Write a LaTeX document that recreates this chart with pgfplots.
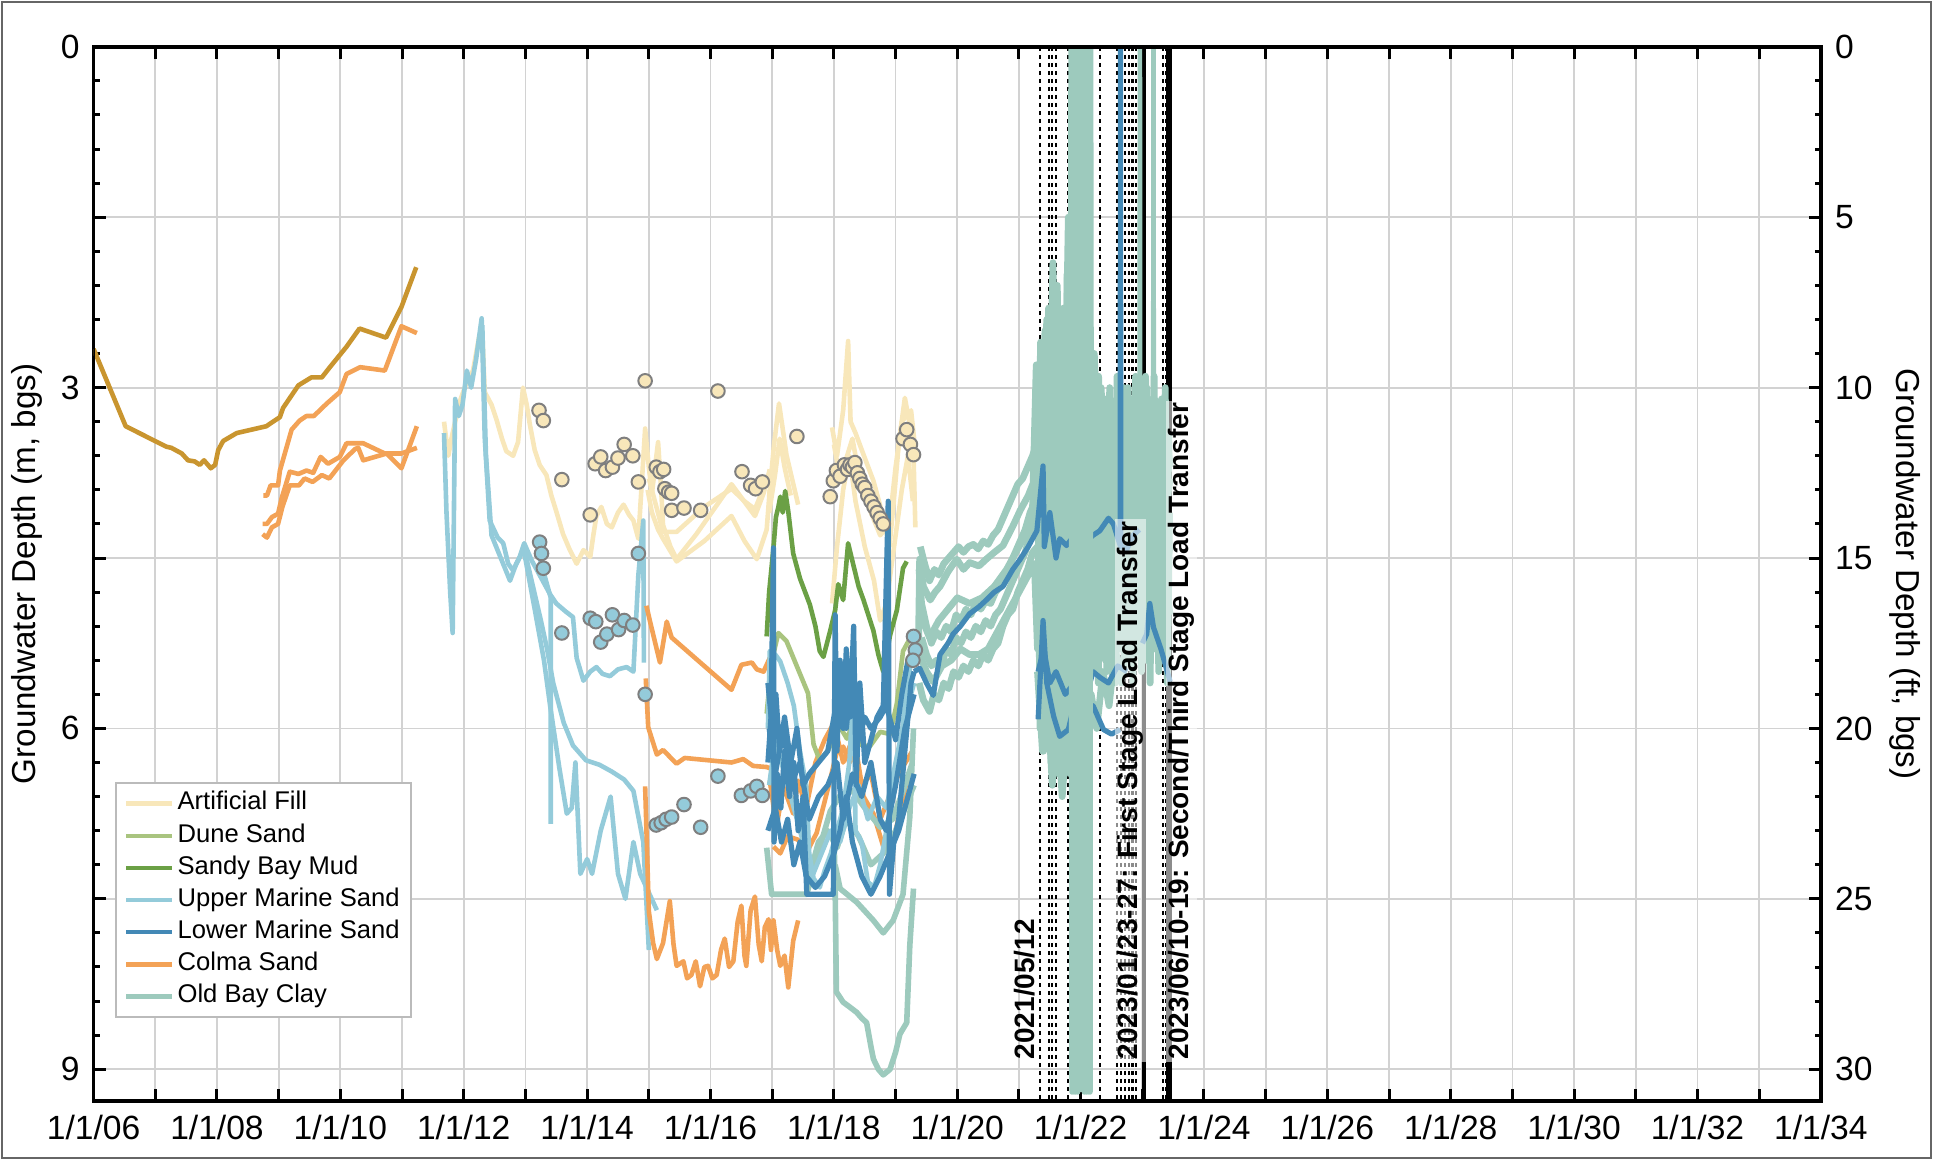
\documentclass[border=0pt]{standalone}
\usepackage{pgfplots}
\pgfplotsset{compat=1.18}
\usepackage{fontspec}
\setmainfont{Liberation Sans}
\definecolor{cAF}{HTML}{F8E7BA}
\definecolor{cDS}{HTML}{A9C47F}
\definecolor{cSBM}{HTML}{6BA045}
\definecolor{cUMS}{HTML}{94CBDA}
\definecolor{cLMS}{HTML}{4389B6}
\definecolor{cCS}{HTML}{F3A256}
\definecolor{cOBC}{HTML}{9DCABD}
\definecolor{cGold}{HTML}{C9952F}
\definecolor{cGrid}{HTML}{D2D2D2}
\definecolor{cEdge}{HTML}{7F7F7F}
\definecolor{cFrame}{HTML}{666666}
\definecolor{cLeg}{HTML}{BBBBBB}
\pgfplotsset{band/.style={cOBC, line width=1.7pt, forget plot}}
\begin{document}
\begin{tikzpicture}
\begin{axis}[
  at={(23.4pt,14.75pt)}, anchor=south west,
  scale only axis, width=431.85pt, height=263.55pt,
  xmin=2006, xmax=2034, ymin=0, ymax=9.28, y dir=reverse,
  xtick={2006,2007,...,2034},
  xticklabels={1/1/06,,1/1/08,,1/1/10,,1/1/12,,1/1/14,,1/1/16,,1/1/18,,1/1/20,,1/1/22,,1/1/24,,1/1/26,,1/1/28,,1/1/30,,1/1/32,,1/1/34},
  minor x tick num=3,
  ytick={0,1.5,3,4.5,6,7.5,9}, yticklabels={0,,3,,6,,9},
  minor y tick num=4,
  xtick pos=both, xticklabel pos=lower, ytick pos=left,
  tick align=inside,
  grid=major, major grid style={cGrid, line width=0.45pt},
  axis line style={line width=0.9pt},
  major tick length=3pt, minor tick length=1.6pt,
  every tick/.style={black, line width=0.75pt},
  tick label style={font=\fontsize{8.4}{10}\selectfont},
  ylabel={Groundwater Depth (m, bgs)},
  ylabel style={font=\fontsize{8.3}{10}\selectfont, at={(axis description cs:-0.0384,0.5)}, anchor=center},
  legend style={at={(0.0123,0.0784)}, anchor=south west, draw=cLeg, line width=0.5pt, fill=white,
     font=\fontsize{6.4}{7.5}\selectfont, inner xsep=2pt, inner ysep=1.2pt, nodes={inner sep=0.95pt}},
  legend cell align=left,
  legend image code/.code={\draw[#1, line width=1.1pt] (0pt,0pt) -- (11.4pt,0pt);},
  every axis plot/.append style={line width=1.15pt, line join=round},
]
\addlegendimage{cAF}\addlegendentry{Artificial Fill}
\addlegendimage{cDS}\addlegendentry{Dune Sand}
\addlegendimage{cSBM}\addlegendentry{Sandy Bay Mud}
\addlegendimage{cUMS}\addlegendentry{Upper Marine Sand}
\addlegendimage{cLMS}\addlegendentry{Lower Marine Sand}
\addlegendimage{cCS}\addlegendentry{Colma Sand}
\addlegendimage{cOBC}\addlegendentry{Old Bay Clay}

% event lines
\pgfplotsinvokeforeach{2021.34,2021.48,2021.54,2021.60,2021.80,2022.31,2022.59,2022.65,2022.72,2022.78,2022.84,2022.90,2023.34,2023.38}{
  \addplot[black, line width=0.55pt, dash pattern=on 1pt off 1pt, forget plot] coordinates {(#1,0) (#1,9.28)};
}
\addplot[black, line width=1pt, forget plot] coordinates {(2023.02,0) (2023.02,9.28)};
\addplot[black, line width=1.4pt, forget plot] coordinates {(2023.43,0) (2023.43,9.28)};

% gold
\addplot[cGold, forget plot] coordinates {(2006.0,2.66)(2006.52,3.34)(2007.18,3.52)(2007.26,3.53)(2007.43,3.58)(2007.53,3.64)(2007.64,3.65)(2007.72,3.68)(2007.79,3.64)(2007.90,3.71)(2007.97,3.68)(2008.02,3.55)(2008.10,3.47)(2008.32,3.40)(2008.80,3.34)(2008.88,3.31)(2009.02,3.26)(2009.07,3.18)(2009.32,2.98)(2009.53,2.91)(2009.70,2.91)(2009.83,2.82)(2010.10,2.64)(2010.31,2.48)(2010.74,2.56)(2010.99,2.29)(2011.23,1.94)};
% colma early
\addplot[cCS, forget plot] coordinates {(2008.75,3.95)(2008.81,3.95)(2008.87,3.86)(2008.99,3.86)(2009.02,3.73)(2009.21,3.37)(2009.34,3.29)(2009.45,3.25)(2009.57,3.25)(2009.78,3.14)(2009.99,3.04)(2010.10,2.88)(2010.32,2.82)(2010.72,2.85)(2010.99,2.46)(2011.24,2.52)};
\addplot[cCS, forget plot] coordinates {(2008.74,4.20)(2008.81,4.20)(2008.89,4.14)(2008.99,4.11)(2009.05,3.97)(2009.18,3.74)(2009.32,3.76)(2009.45,3.73)(2009.56,3.75)(2009.68,3.61)(2009.80,3.67)(2009.99,3.61)(2010.10,3.49)(2010.37,3.49)(2010.72,3.58)(2010.99,3.58)(2011.24,3.53)};
\addplot[cCS, forget plot] coordinates {(2008.74,4.29)(2008.81,4.32)(2008.89,4.23)(2008.99,4.20)(2009.06,4.05)(2009.18,3.86)(2009.33,3.86)(2009.42,3.80)(2009.55,3.83)(2009.70,3.77)(2009.82,3.80)(2010.05,3.64)(2010.24,3.54)(2010.29,3.53)(2010.37,3.64)(2010.75,3.58)(2010.99,3.71)(2011.24,3.34)};

% artificial fill lines
\addplot[cAF, forget plot] coordinates {(2011.68,3.30)(2011.75,3.60)(2011.80,3.45)(2011.86,3.30)(2011.95,3.10)(2012.05,2.95)(2012.15,2.85)(2012.25,2.55)(2012.30,2.50)(2012.34,3.04)(2012.45,3.15)(2012.53,3.28)(2012.62,3.45)(2012.69,3.56)(2012.80,3.60)(2012.88,3.48)(2012.96,3.00)(2013.02,3.15)(2013.07,3.32)(2013.15,3.55)(2013.23,3.68)(2013.34,3.77)(2013.42,3.95)(2013.50,4.09)(2013.61,4.29)(2013.72,4.43)(2013.83,4.55)(2013.94,4.43)(2014.05,4.49)(2014.10,4.30)(2014.15,4.13)(2014.23,4.05)(2014.32,4.20)(2014.40,4.23)(2014.50,4.10)(2014.59,4.03)(2014.68,4.12)(2014.75,4.17)(2014.83,4.33)(2014.94,3.36)(2015.00,3.70)(2015.05,3.93)(2015.10,3.70)(2015.15,3.48)(2015.20,3.90)(2015.23,4.21)(2015.35,4.40)(2015.45,4.51)(2015.77,4.29)(2016.34,3.85)(2016.72,4.13)(2016.86,3.93)(2016.96,3.72)};
\addplot[cAF, forget plot] coordinates {(2014.98,3.90)(2015.05,4.10)(2015.15,4.25)(2015.23,4.33)(2015.45,4.53)(2015.90,4.35)(2016.34,4.13)(2016.55,4.35)(2016.75,4.51)(2016.91,4.25)(2016.96,3.90)};
\addplot[cAF, forget plot] coordinates {(2015.00,3.80)(2015.23,4.27)(2015.45,4.27)(2015.90,4.05)(2016.34,3.89)(2016.55,4.00)(2016.72,4.07)(2016.96,3.75)};
\addplot[cAF, forget plot] coordinates {(2016.95,3.96)(2017.03,3.50)(2017.11,3.14)(2017.18,3.40)(2017.23,3.59)(2017.32,3.80)(2017.42,4.03)};
\addplot[cAF, forget plot] coordinates {(2016.95,4.10)(2017.05,3.75)(2017.12,3.45)(2017.20,3.70)(2017.30,3.95)};
\addplot[cAF, forget plot] coordinates {(2017.97,3.35)(2018.05,3.60)(2018.15,3.20)(2018.23,2.59)(2018.27,3.30)(2018.35,3.40)(2018.48,3.59)(2018.64,3.82)(2018.80,4.14)(2018.90,4.40)(2018.97,4.00)(2019.05,3.50)(2019.15,3.09)(2019.22,3.30)(2019.29,3.59)(2019.32,4.23)};
\addplot[cAF, forget plot] coordinates {(2017.97,4.90)(2018.05,4.40)(2018.15,3.90)(2018.25,3.60)(2018.35,4.00)(2018.50,4.40)(2018.65,4.70)(2018.75,5.05)(2018.85,4.90)(2018.95,4.50)(2019.10,3.90)(2019.20,3.60)(2019.28,4.00)};
\addplot[cAF, forget plot] coordinates {(2018.00,3.50)(2018.10,3.80)(2018.30,3.45)(2018.45,3.90)(2018.60,4.10)(2018.75,4.30)(2018.90,4.20)(2019.00,3.70)(2019.10,3.30)(2019.25,3.20)(2019.30,3.45)};

% upper marine sand
\addplot[cUMS, forget plot] coordinates {(2011.68,3.40)(2011.72,4.10)(2011.78,4.80)(2011.82,5.16)(2011.86,3.10)(2011.92,3.25)(2011.98,3.15)(2012.05,2.85)(2012.12,3.00)(2012.20,2.75)(2012.29,2.39)(2012.34,3.44)(2012.42,4.17)(2012.55,4.32)(2012.64,4.37)(2012.72,4.55)(2012.80,4.61)(2012.90,4.50)(2012.98,4.37)(2013.10,4.52)(2013.23,4.65)(2013.40,4.82)(2013.50,4.90)(2013.65,4.97)(2013.77,5.02)(2013.83,5.38)(2013.94,5.58)(2014.05,5.50)(2014.15,5.46)(2014.25,5.52)(2014.37,5.54)(2014.50,5.48)(2014.64,5.46)(2014.75,5.50)(2014.83,4.65)(2014.91,4.17)(2014.92,5.42)};
\addplot[cUMS, forget plot] coordinates {(2012.30,2.45)(2012.36,3.60)(2012.45,4.30)(2012.60,4.50)(2012.75,4.70)(2012.85,4.55)(2012.98,4.42)(2013.10,4.70)(2013.25,5.05)(2013.35,5.30)(2013.45,5.60)(2013.62,5.95)(2013.77,6.15)(2013.98,6.28)(2014.20,6.32)(2014.40,6.38)(2014.60,6.45)(2014.75,6.55)(2014.91,7.00)(2015.00,7.95)};
\addplot[cUMS, forget plot] coordinates {(2012.98,4.45)(2013.15,4.95)(2013.30,5.40)(2013.40,5.80)(2013.55,6.35)(2013.67,6.75)(2013.75,6.70)(2013.81,6.30)(2013.89,7.28)(2014.00,7.15)(2014.08,7.28)(2014.22,6.90)(2014.38,6.60)(2014.50,7.28)(2014.62,7.50)(2014.75,7.00)(2014.86,7.28)(2015.13,7.60)};
\addplot[cUMS, forget plot] coordinates {(2013.23,4.50)(2013.41,4.85)(2013.41,6.84)};

% colma sand 2015+
\addplot[cCS, forget plot] coordinates {(2014.96,4.92)(2015.02,5.06)(2015.18,5.42)(2015.29,5.06)(2015.37,5.20)(2016.34,5.66)(2016.50,5.44)(2016.67,5.42)(2016.75,5.48)(2016.86,5.50)(2016.96,5.38)};
\addplot[cCS, forget plot] coordinates {(2014.95,5.56)(2014.99,5.99)(2015.13,6.23)(2015.23,6.19)(2015.45,6.31)(2015.58,6.26)(2016.34,6.30)(2016.53,6.27)(2016.69,6.33)(2016.91,6.34)(2016.96,6.35)};
\addplot[cCS, forget plot] coordinates {(2014.94,6.51)(2015.00,7.61)(2015.07,7.89)(2015.13,8.03)(2015.23,7.89)(2015.34,7.52)(2015.40,7.90)(2015.45,8.09)(2015.56,8.05)(2015.62,8.20)(2015.69,8.17)(2015.76,8.05)(2015.83,8.27)(2015.90,8.10)(2015.96,8.09)(2016.03,8.20)(2016.10,8.17)(2016.17,7.95)(2016.23,7.85)(2016.30,8.10)(2016.37,8.05)(2016.44,7.70)(2016.50,7.56)(2016.55,8.00)(2016.58,8.09)(2016.65,7.60)(2016.72,7.48)(2016.78,7.90)(2016.83,8.05)(2016.88,7.75)(2016.94,7.68)(2016.98,7.95)(2017.02,7.69)(2017.08,7.95)(2017.13,8.09)(2017.20,8.00)(2017.26,8.28)(2017.34,7.87)(2017.42,7.69)};
\addplot[cCS, forget plot] coordinates {(2016.96,6.46)(2017.07,6.87)(2017.18,6.51)(2017.34,6.75)(2017.42,6.46)(2017.55,6.70)(2017.70,6.30)(2017.85,6.10)(2018.00,5.95)(2018.15,6.30)(2018.30,6.10)(2018.45,6.50)(2018.60,6.40)(2018.75,6.80)(2018.90,6.60)(2019.05,6.40)(2019.27,6.20)};
\addplot[cCS, forget plot] coordinates {(2017.02,7.04)(2017.13,7.10)(2017.25,6.95)(2017.42,6.98)(2017.55,7.10)(2017.72,6.92)(2017.94,6.45)(2018.04,6.22)(2018.15,6.16)(2018.25,6.30)(2018.37,6.22)(2018.48,6.60)(2018.64,6.75)(2018.80,7.04)(2018.96,6.98)(2019.07,6.75)(2019.18,6.46)(2019.29,6.43)};

% old bay clay 2017-2019
\addplot[cOBC, line width=1.4pt, forget plot] coordinates {(2016.91,7.05)(2016.99,7.46)(2017.56,7.46)(2017.72,7.14)(2017.94,6.73)(2018.10,6.59)(2018.30,6.55)(2018.50,6.70)(2018.75,6.87)(2018.95,6.80)(2019.12,6.55)(2019.26,6.32)};
\addplot[cOBC, line width=1.4pt, forget plot] coordinates {(2018.00,6.90)(2018.02,7.41)(2018.04,8.32)(2018.15,8.41)(2018.25,8.45)(2018.37,8.50)(2018.45,8.55)(2018.53,8.59)(2018.60,8.80)(2018.64,8.91)(2018.72,9.00)(2018.80,9.05)(2018.91,9.00)(2019.00,8.85)(2019.07,8.69)(2019.18,8.59)(2019.23,7.91)(2019.29,7.41)};
\addplot[cOBC, line width=1.4pt, forget plot] coordinates {(2018.02,7.20)(2018.10,7.41)(2018.37,7.53)(2018.64,7.69)(2018.80,7.80)(2018.96,7.69)(2019.12,7.46)(2019.23,6.78)(2019.29,6.00)};
\addplot[cOBC, line width=1.4pt, forget plot] coordinates {(2017.60,7.30)(2017.75,7.00)(2017.90,6.90)(2018.05,7.05)(2018.20,6.80)(2018.40,6.95)(2018.60,7.20)(2018.80,7.10)(2019.00,6.90)(2019.15,6.70)(2019.30,6.50)};

% dune sand, sandy bay mud
\addplot[cDS, forget plot] coordinates {(2016.91,5.87)(2016.99,5.41)(2017.10,5.16)(2017.23,5.23)(2017.42,5.48)(2017.58,5.69)(2017.67,6.14)(2017.77,6.28)(2017.91,6.19)(2018.07,5.96)(2018.21,6.09)(2018.31,5.96)(2018.42,6.14)(2018.58,6.16)(2018.75,6.03)(2018.91,6.05)(2019.02,5.78)(2019.12,5.32)(2019.21,5.23)};
\addplot[cSBM, forget plot] coordinates {(2016.91,5.19)(2016.95,4.80)(2017.02,4.41)(2017.06,4.14)(2017.10,4.05)(2017.13,3.96)(2017.17,4.10)(2017.21,3.91)(2017.26,4.09)(2017.34,4.46)(2017.45,4.68)(2017.61,4.91)(2017.70,5.10)(2017.77,5.32)(2017.83,5.37)(2017.94,5.14)(2018.02,4.96)(2018.07,4.73)(2018.15,4.87)(2018.23,4.37)(2018.31,4.55)(2018.40,4.75)(2018.48,4.87)(2018.64,5.14)(2018.72,5.35)(2018.80,5.50)(2018.91,5.18)(2019.02,4.96)(2019.12,4.59)(2019.18,4.53)};

% upper marine sand 2017-2019
\addplot[cUMS, forget plot] coordinates {(2016.93,6.00)(2016.96,5.32)(2017.05,5.35)(2017.13,5.41)(2017.25,5.60)(2017.35,5.80)(2017.45,6.20)(2017.55,6.50)(2017.60,7.10)(2017.67,7.32)(2017.77,7.40)(2017.85,7.25)(2017.95,7.10)(2018.05,6.90)(2018.15,6.70)(2018.25,6.30)(2018.32,5.60)(2018.35,6.90)(2018.45,7.00)(2018.55,7.35)(2018.65,7.40)(2018.75,7.20)(2018.85,6.90)(2018.95,6.60)(2019.05,6.30)(2019.15,5.80)(2019.25,5.40)(2019.30,5.20)};
\addplot[cUMS, forget plot] coordinates {(2016.95,6.50)(2017.05,6.10)(2017.20,6.40)(2017.35,6.70)(2017.50,7.00)(2017.65,7.30)(2017.80,7.10)(2017.95,6.90)(2018.10,7.00)(2018.25,6.70)(2018.40,6.50)(2018.55,6.80)(2018.70,6.60)(2018.85,6.70)(2019.00,6.30)(2019.15,5.90)(2019.30,5.60)};

% lower marine sand 2017-2019
\addplot[cLMS, line width=1.3pt, forget plot] coordinates {(2016.93,6.30)(2016.98,5.90)(2017.02,4.41)(2017.03,7.00)(2017.08,6.40)(2017.14,6.70)(2017.20,6.20)(2017.28,6.60)(2017.35,6.30)(2017.42,6.90)(2017.50,6.60)(2017.56,7.46)(2017.99,7.46)(2018.02,5.00)(2018.05,6.20)(2018.10,5.40)(2018.15,6.00)(2018.20,5.30)(2018.26,5.90)(2018.32,5.10)(2018.36,6.50)(2018.42,5.60)(2018.50,6.30)(2018.60,6.10)(2018.70,5.90)(2018.80,5.80)(2018.88,4.00)(2018.90,7.46)(2018.97,7.00)(2019.05,6.80)(2019.15,6.20)(2019.25,5.60)(2019.30,5.50)};
\addplot[cLMS, line width=1.3pt, forget plot] coordinates {(2016.93,5.60)(2017.00,6.00)(2017.06,5.70)(2017.12,6.20)(2017.20,5.90)(2017.30,6.30)(2017.40,6.00)(2017.50,6.50)(2017.60,6.40)(2017.75,6.30)(2017.90,6.20)(2018.00,5.90)(2018.10,5.60)(2018.20,6.00)(2018.30,5.50)(2018.40,6.10)(2018.50,5.90)(2018.60,6.00)(2018.75,5.90)(2018.85,5.80)(2019.00,6.10)(2019.10,5.70)(2019.20,5.40)(2019.30,5.30)};
\addplot[cLMS, line width=1.3pt, forget plot] coordinates {(2016.93,6.90)(2017.05,6.70)(2017.15,7.00)(2017.25,6.80)(2017.35,7.20)(2017.45,7.00)(2017.55,7.30)(2017.70,7.40)(2017.85,7.30)(2018.00,7.10)(2018.10,6.90)(2018.20,6.60)(2018.30,7.00)(2018.45,7.30)(2018.60,7.46)(2018.75,7.30)(2018.90,7.10)(2019.05,6.90)(2019.20,6.60)(2019.30,6.40)};
\addplot[cLMS, line width=1.3pt, forget plot] coordinates {(2016.95,6.00)(2017.05,6.40)(2017.18,6.00)(2017.30,6.50)(2017.45,6.30)(2017.60,6.80)(2017.75,6.60)(2017.90,6.50)(2018.05,6.30)(2018.15,6.80)(2018.30,6.40)(2018.45,6.60)(2018.60,6.30)(2018.75,6.80)(2018.85,6.90)(2019.00,6.50)(2019.15,6.00)(2019.30,5.70)};

% markers
\addplot[only marks, mark=*, mark size=1.7pt, mark options={fill=cAF, draw=cEdge, line width=0.5pt}, forget plot] coordinates {(2013.22,3.20)(2013.29,3.29)(2013.59,3.81)(2014.05,4.12)(2014.13,3.67)(2014.22,3.61)(2014.30,3.73)(2014.41,3.70)(2014.50,3.62)(2014.60,3.50)(2014.74,3.60)(2014.83,3.83)(2014.94,2.94)(2015.12,3.70)(2015.18,3.74)(2015.24,3.72)(2015.26,3.89)(2015.32,3.92)(2015.37,3.93)(2015.37,4.08)(2015.57,4.06)(2015.84,4.08)(2016.12,3.03)(2016.51,3.74)(2016.65,3.86)(2016.73,3.89)(2016.84,3.83)(2017.40,3.43)(2017.94,3.96)(2017.99,3.82)(2018.04,3.73)(2018.10,3.78)(2018.17,3.68)(2018.22,3.72)(2018.26,3.68)(2018.30,3.70)(2018.34,3.66)(2018.38,3.75)(2018.42,3.80)(2018.46,3.85)(2018.50,3.88)(2018.55,3.95)(2018.60,4.00)(2018.65,4.05)(2018.70,4.10)(2018.75,4.15)(2018.80,4.20)(2019.12,3.45)(2019.18,3.37)(2019.24,3.50)(2019.29,3.59)};
\addplot[only marks, mark=*, mark size=1.7pt, mark options={fill=cUMS, draw=cEdge, line width=0.5pt}, forget plot] coordinates {(2013.23,4.36)(2013.26,4.46)(2013.29,4.59)(2013.59,5.16)(2014.05,5.03)(2014.14,5.06)(2014.22,5.24)(2014.32,5.17)(2014.41,5.00)(2014.51,5.13)(2014.60,5.05)(2014.74,5.09)(2014.83,4.46)(2014.94,5.70)(2015.12,6.85)(2015.20,6.83)(2015.28,6.80)(2015.37,6.78)(2015.57,6.67)(2015.84,6.87)(2016.12,6.42)(2016.50,6.59)(2016.65,6.55)(2016.75,6.51)(2016.84,6.59)(2019.29,5.19)(2019.32,5.31)(2019.28,5.40)};

% old bay clay 2019+
\addplot[band] coordinates {(2019.37,5.30)(2019.39,4.51)(2019.45,4.75)(2019.56,4.87)(2019.64,4.80)(2019.72,4.75)(2019.85,4.62)(2019.99,4.51)(2020.10,4.60)(2020.20,4.54)(2020.35,4.57)(2020.47,4.51)(2020.60,4.45)(2020.74,4.39)(2020.90,4.22)(2021.02,4.08)(2021.15,3.95)(2021.23,3.84)(2021.28,2.80)(2021.31,4.10)(2021.35,2.60)(2021.40,3.40)(2021.45,2.40)(2021.50,3.30)(2021.55,1.90)(2021.58,2.90)(2021.62,2.10)(2021.66,3.40)(2021.70,2.40)(2021.75,3.20)(2021.80,1.50)(2021.83,3.50)(2022.17,3.60)(2022.22,2.70)(2022.28,3.60)(2022.33,3.00)(2022.40,3.70)(2022.45,3.20)(2022.52,3.80)(2022.58,3.10)(2022.64,3.60)(2022.70,3.00)(2022.76,3.70)(2022.82,3.10)(2022.88,3.80)(2022.94,3.20)(2023.00,3.50)(2023.05,2.90)(2023.10,3.70)(2023.16,3.10)(2023.22,3.80)(2023.28,3.30)(2023.34,3.60)(2023.40,3.40)(2023.45,3.70)};
\addplot[band] coordinates {(2019.39,5.35)(2019.50,5.50)(2019.61,5.59)(2019.75,5.45)(2019.90,5.40)(2020.05,5.30)(2020.20,5.35)(2020.35,5.35)(2020.50,5.30)(2020.65,5.15)(2020.80,5.00)(2020.95,4.85)(2021.10,4.70)(2021.25,4.55)(2021.30,5.30)(2021.35,4.90)(2021.40,5.60)(2021.45,5.10)(2021.50,5.90)(2021.55,5.30)(2021.60,6.30)(2021.65,5.60)(2021.70,6.00)(2021.75,5.20)(2021.80,6.20)(2021.83,5.50)(2022.17,5.20)(2022.25,5.50)(2022.32,4.90)(2022.40,5.40)(2022.48,4.80)(2022.55,5.30)(2022.62,4.70)(2022.70,5.20)(2022.78,4.60)(2022.86,5.10)(2022.94,4.50)(2023.02,4.90)(2023.10,4.40)(2023.18,4.80)(2023.26,4.30)(2023.34,4.70)(2023.45,4.40)};
\addplot[band] coordinates {(2019.40,5.00)(2019.55,5.20)(2019.70,5.05)(2019.85,4.95)(2020.00,4.85)(2020.20,4.90)(2020.40,4.85)(2020.60,4.75)(2020.80,4.60)(2021.00,4.40)(2021.20,4.20)(2021.30,3.40)(2021.36,4.60)(2021.42,3.00)(2021.48,4.20)(2021.54,2.60)(2021.60,3.90)(2021.66,2.90)(2021.72,4.40)(2021.78,3.20)(2021.83,4.50)(2022.17,4.20)(2022.23,3.50)(2022.29,4.40)(2022.35,3.60)(2022.41,4.50)(2022.47,3.70)(2022.53,4.30)(2022.59,3.50)(2022.65,4.40)(2022.71,3.60)(2022.77,4.20)(2022.83,3.40)(2022.89,4.10)(2022.95,3.30)(2023.01,4.00)(2023.07,3.40)(2023.13,4.20)(2023.19,3.50)(2023.25,4.00)(2023.31,3.60)(2023.37,4.10)(2023.45,3.80)};
\addplot[band] coordinates {(2021.30,5.50)(2021.38,6.20)(2021.46,5.70)(2021.54,6.50)(2021.62,5.90)(2021.70,6.60)(2021.78,6.00)(2021.83,6.40)(2022.17,5.70)(2022.26,6.00)(2022.36,5.50)(2022.46,5.80)(2022.56,5.30)(2022.66,5.60)(2022.76,5.10)(2022.86,5.40)(2022.96,4.90)(2023.06,5.20)(2023.16,4.80)(2023.26,5.10)(2023.36,4.70)(2023.45,5.00)};
\addplot[band] coordinates {(2019.38,4.60)(2019.42,4.90)(2019.50,5.10)(2019.58,5.25)(2019.66,5.15)(2019.74,5.20)(2019.82,5.10)(2019.90,5.15)(2019.98,5.00)(2020.06,5.05)(2020.14,4.95)(2020.22,5.00)(2020.30,4.90)(2020.38,4.95)(2020.46,4.88)(2020.54,4.90)(2020.62,4.80)(2020.70,4.75)(2020.78,4.65)(2020.86,4.55)(2020.94,4.45)(2021.02,4.35)(2021.10,4.25)(2021.18,4.10)(2021.26,4.00)(2021.30,3.60)};
\addplot[band] coordinates {(2019.38,5.60)(2019.45,5.75)(2019.55,5.85)(2019.62,5.70)(2019.70,5.75)(2019.78,5.60)(2019.86,5.65)(2019.94,5.50)(2020.02,5.55)(2020.10,5.45)(2020.18,5.50)(2020.26,5.40)(2020.34,5.45)(2020.42,5.35)(2020.50,5.40)(2020.58,5.30)(2020.66,5.25)(2020.74,5.10)(2020.82,5.00)(2020.90,4.95)(2020.98,4.80)(2021.06,4.70)(2021.14,4.60)(2021.22,4.45)(2021.30,4.40)};
\addplot[band] coordinates {(2019.40,4.40)(2019.47,4.55)(2019.55,4.70)(2019.63,4.60)(2019.70,4.65)(2019.78,4.55)(2019.86,4.50)(2019.94,4.45)(2020.02,4.40)(2020.10,4.45)(2020.18,4.40)(2020.26,4.38)(2020.34,4.42)(2020.42,4.35)(2020.50,4.38)(2020.58,4.30)(2020.66,4.25)(2020.74,4.15)(2020.82,4.05)(2020.90,3.95)(2020.98,3.85)(2021.06,3.80)(2021.14,3.70)(2021.22,3.60)(2021.28,3.50)};
\addplot[band] coordinates {(2019.42,5.20)(2019.50,5.35)(2019.58,5.45)(2019.66,5.40)(2019.74,5.45)(2019.82,5.30)(2019.90,5.35)(2019.98,5.20)(2020.06,5.25)(2020.14,5.15)(2020.22,5.20)(2020.30,5.10)(2020.38,5.15)(2020.46,5.05)(2020.54,5.10)(2020.62,5.00)(2020.70,4.95)(2020.78,4.85)(2020.86,4.75)(2020.94,4.65)(2021.02,4.55)(2021.10,4.45)(2021.18,4.30)(2021.26,4.20)};
\addplot[band] coordinates {(2021.30,3.00)(2021.33,5.00)(2021.36,2.80)(2021.39,4.80)(2021.42,2.50)(2021.45,4.60)(2021.48,2.30)(2021.51,4.90)(2021.54,2.20)(2021.57,5.20)(2021.60,2.40)(2021.63,5.00)(2021.66,2.60)(2021.69,5.30)(2021.72,2.30)(2021.75,5.10)(2021.78,2.00)(2021.81,5.40)(2021.84,2.00)};
\addplot[band] coordinates {(2021.31,4.00)(2021.34,6.00)(2021.37,3.60)(2021.40,6.20)(2021.43,3.30)(2021.46,5.80)(2021.49,3.60)(2021.52,6.30)(2021.55,3.20)(2021.58,6.00)(2021.61,3.50)(2021.64,6.40)(2021.67,3.40)(2021.70,6.10)(2021.73,3.60)(2021.76,6.30)(2021.79,3.30)(2021.82,6.00)};
\addplot[band] coordinates {(2022.17,3.0)(2022.20,4.5)(2022.23,3.2)(2022.26,4.7)(2022.29,2.9)(2022.32,4.4)(2022.35,3.3)(2022.38,4.8)(2022.41,3.1)(2022.44,4.6)(2022.47,3.0)(2022.50,4.5)(2022.53,3.2)(2022.56,4.7)(2022.59,2.9)(2022.62,4.4)(2022.65,3.3)(2022.68,4.8)(2022.71,3.1)(2022.74,4.6)(2022.77,3.0)(2022.80,4.5)(2022.83,3.2)(2022.86,4.7)(2022.89,2.9)(2022.92,4.4)(2022.95,3.3)(2022.98,4.8)(2023.01,3.1)(2023.04,4.6)(2023.07,3.0)(2023.10,4.5)(2023.13,3.2)(2023.16,4.7)(2023.19,2.9)(2023.22,4.4)(2023.25,3.3)(2023.28,4.8)(2023.31,3.1)(2023.34,4.6)(2023.37,3.0)(2023.40,4.5)(2023.43,3.4)};
\addplot[band] coordinates {(2022.18,4.0)(2022.215,5.4)(2022.25,3.8)(2022.285,5.6)(2022.32,4.1)(2022.355,5.3)(2022.39,3.9)(2022.425,5.5)(2022.46,4.0)(2022.495,5.4)(2022.53,3.8)(2022.565,5.6)(2022.60,4.1)(2022.635,5.3)(2022.67,3.9)(2022.705,5.5)(2022.74,4.0)(2022.775,5.4)(2022.81,3.8)(2022.845,5.6)(2022.88,4.1)(2022.915,5.3)(2022.95,3.9)(2022.985,5.5)(2023.02,4.0)(2023.055,5.4)(2023.09,3.8)(2023.125,5.6)(2023.16,4.1)(2023.195,5.3)(2023.23,3.9)(2023.265,5.5)(2023.30,4.0)(2023.335,5.4)(2023.37,3.8)(2023.405,5.6)(2023.44,4.1)};

% lower marine sand 2019+
\addplot[cLMS, line width=1.3pt, forget plot] coordinates {(2019.30,5.50)(2019.39,5.47)(2019.50,5.60)(2019.61,5.71)(2019.72,5.35)(2019.85,5.25)(2019.93,5.17)(2020.05,5.10)(2020.20,4.99)(2020.35,4.93)(2020.47,4.87)(2020.60,4.80)(2020.74,4.75)(2020.90,4.60)(2021.02,4.51)(2021.15,4.40)(2021.29,4.26)(2021.39,3.69)(2021.41,4.40)(2021.50,4.10)(2021.60,4.50)(2021.66,4.33)(2021.77,4.39)(2021.90,4.30)(2022.00,4.50)(2022.10,4.35)(2022.20,4.30)(2022.31,4.26)(2022.45,4.15)(2022.53,4.20)(2022.64,4.39)(2022.645,0.00)(2022.65,4.40)(2022.75,4.42)(2022.85,4.30)(2022.95,4.25)};
\addplot[cLMS, line width=1.3pt, forget plot] coordinates {(2021.31,5.92)(2021.39,5.05)(2021.45,5.60)(2021.56,5.89)(2021.66,6.07)(2021.80,6.01)(2021.93,5.71)(2022.10,5.83)(2022.20,5.80)(2022.37,6.01)(2022.50,6.05)(2022.64,6.01)};
\addplot[cLMS, line width=1.3pt, forget plot] coordinates {(2021.31,5.50)(2021.40,5.30)(2021.50,5.60)(2021.60,5.50)(2021.75,5.70)(2021.90,5.60)(2022.00,5.90)(2022.20,5.50)(2022.31,5.55)(2022.45,5.60)(2022.60,5.45)(2022.75,5.50)};
\addplot[cLMS, line width=1.3pt, forget plot] coordinates {(2023.00,5.25)(2023.07,5.17)(2023.12,4.90)(2023.18,5.11)(2023.30,5.30)(2023.45,5.59)};

% old bay clay full-height columns and spikes
\addplot[cOBC, line width=1.4pt, forget plot] coordinates {(2021.83,4.0)(2021.845,0)(2021.86,9.2)(2021.875,0)(2021.89,9.2)(2021.905,0)(2021.92,9.2)(2021.935,0)(2021.95,9.2)(2021.965,0)(2021.97,9.2)};
\addplot[cOBC, line width=1.4pt, forget plot] coordinates {(2022.03,9.2)(2022.045,0)(2022.06,9.2)(2022.075,0)(2022.09,9.2)(2022.105,0)(2022.12,9.2)(2022.135,0)(2022.15,9.2)(2022.16,0)(2022.17,4.0)};
\addplot[cOBC, forget plot] coordinates {(2022.955,3.3)(2022.96,0)(2022.965,3.3)};
\addplot[cOBC, forget plot] coordinates {(2023.175,3.5)(2023.18,0)(2023.185,3.5)};

% event labels
\node[rotate=90, anchor=west, font=\bfseries\fontsize{7.0}{8}\selectfont, inner sep=0.6pt] at (axis cs:2021.09,8.94) {2021/05/12};
\node[rotate=90, anchor=west, font=\bfseries\fontsize{7.0}{8}\selectfont, fill=white, fill opacity=0.55, text opacity=1, inner sep=0.6pt] at (axis cs:2022.81,8.94) {2023/01/23-27: First Stage Load Transfer};
\node[rotate=90, anchor=west, font=\bfseries\fontsize{7.0}{8}\selectfont, fill=white, fill opacity=0.55, text opacity=1, inner sep=0.6pt] at (axis cs:2023.63,8.94) {2023/06/10-19: Second/Third Stage Load Transfer};

\draw[line width=0.9pt] (rel axis cs:0,0) rectangle (rel axis cs:1,1);
\end{axis}
\begin{axis}[
  at={(23.4pt,14.75pt)}, anchor=south west,
  scale only axis, width=431.85pt, height=263.55pt,
  xmin=2006, xmax=2034, ymin=0, ymax=30.93, y dir=reverse,
  axis x line=none, axis y line*=right,
  ytick={0,5,10,15,20,25,30}, yticklabels={0,5,10,15,20,25,30},
  minor y tick num=4, tick align=inside,
  axis line style={line width=0.9pt},
  major tick length=3pt, minor tick length=1.6pt,
  every tick/.style={black, line width=0.75pt},
  tick label style={font=\fontsize{8.4}{10}\selectfont},
  ylabel={Groundwater Depth (ft, bgs)},
  ylabel style={font=\fontsize{8.3}{10}\selectfont, at={(axis description cs:1.0484,0.5)}, anchor=center, rotate=180},
]
\addplot[draw=none] coordinates {(2006,0)};
\end{axis}
\pgfresetboundingbox
\useasboundingbox (0,0) rectangle (483.25pt,290pt);
\draw[cFrame, line width=0.5pt] (0.6pt,0.6pt) rectangle (482.65pt,289.4pt);
\end{tikzpicture}
\end{document}
